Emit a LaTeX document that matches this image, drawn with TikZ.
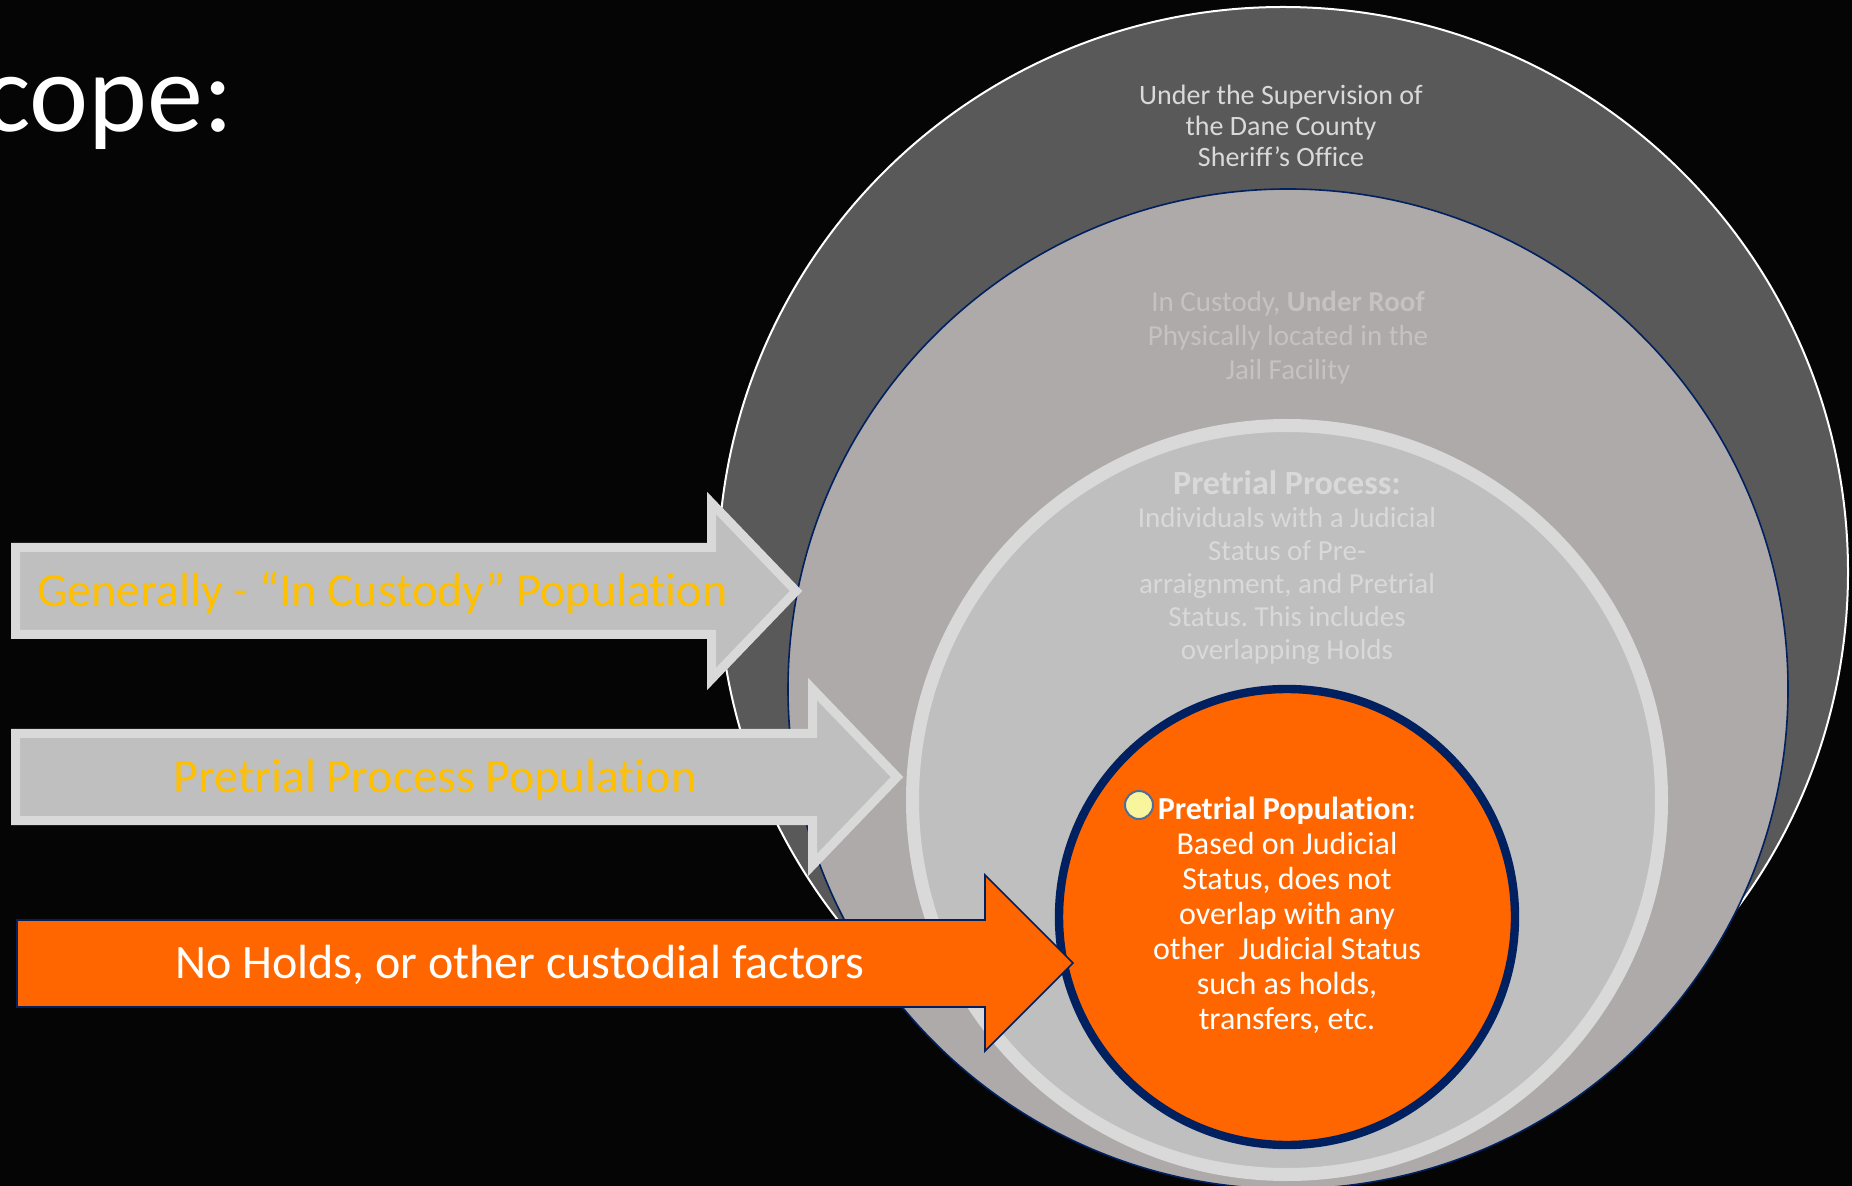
\documentclass[tikz,border=0pt]{standalone}
\usepackage{fontspec}
\setmainfont{Carlito}[Ligatures=NoCommon]
\usepackage{xcolor}
\usepackage{tikz}
\usetikzlibrary{positioning}
\definecolor{dkgray}{HTML}{595959}
\definecolor{midgray}{HTML}{AEAAAA}
\definecolor{ltgray}{HTML}{BFBFBF}
\definecolor{rimgray}{HTML}{D9D9D9}
\definecolor{roofgray}{HTML}{C4C2C2}
\definecolor{navy}{HTML}{002060}
\definecolor{orng}{HTML}{FF6600}
\definecolor{gold}{HTML}{FFC000}
\definecolor{dotyellow}{HTML}{F8F59C}
\definecolor{dotrim}{HTML}{4F6E9C}
\frenchspacing

\begin{document}
\begin{tikzpicture}[x=0.5pt, y=-0.5pt,
	every node/.style={inner sep=0pt, outer sep=0pt},
	ringtext/.style={align=center, font=\fontsize{14.5}{17}\selectfont},
	greyarrow/.style={fill=ltgray, draw=rimgray, line width=4.5pt, miter limit=10},
	arrowtext/.style={font=\fontsize{24}{28}\selectfont}]
			\useasboundingbox (0,0) rectangle (1852,1186);
			\clip (0,0) rectangle (1852,1186);
			\fill [black!98] (0,0) rectangle (1852,1186);
			
			% title, cut at the left edge
			\node (scope) [anchor=base west, text=white, font=\fontsize{56}{60}\selectfont] at (-17,132) {cope:};
			
			% nested rings
			\draw [fill=dkgray, draw=white, line width=1pt] (1283,572) circle (565);
			\draw [fill=midgray, draw=navy, line width=0.8pt] (1288,689) circle (500);
			\draw [fill=ltgray, draw=rimgray, line width=6.5pt] (1287,800) circle (374.5);
			\draw [fill=orng, draw=navy, line width=4.2pt] (1287,917) circle (228);
			
			\node (sheriff) [ringtext, text=rimgray, font=\fontsize{14}{15.5}\selectfont] at (1281,126) {Under the Supervision of\\the Dane County\\Sheriff’s Office};
			\node (roof) [ringtext, text=roofgray] at (1288,338) {In Custody,\ \textbf{Under Roof}\\Physically located in the\\Jail Facility};
			\node (process) [ringtext, text=rimgray, font=\fontsize{14.5}{16.5}\selectfont] at (1287,568) {{\fontsize{17}{17}\selectfont\textbf{Pretrial Process:}}\\Individuals with a Judicial\\Status of Pre-\\arraignment, and Pretrial\\Status. This includes\\overlapping Holds};
			\node (population) [ringtext, text=white, font=\fontsize{16}{17.5}\selectfont] at (1287,915) {\textbf{Pretrial Population}:\\Based on Judicial\\Status, does not\\overlap with any\\other\ \ Judicial Status\\such as holds,\\transfers, etc.};
			\node (dot) [circle, minimum size=14pt, fill=dotyellow, draw=dotrim, line width=1pt] at (1139,805) {};
			
			% block arrows
			\draw [greyarrow] (15.5,547.5) -- (711.5,547.5) -- (711.5,503) -- (796,591) -- (711.5,679) -- (711.5,634.5) -- (15.5,634.5) -- cycle;
			\node (custody) [arrowtext, anchor=base west, text=gold] at (37,607) {Generally - “In Custody” Population};
			
			\draw [greyarrow] (15.5,733.5) -- (812.5,733.5) -- (812.5,689) -- (897,777) -- (812.5,865) -- (812.5,820.5) -- (15.5,820.5) -- cycle;
			\node (pretrial) [arrowtext, anchor=base, text=gold] at (435,792) {Pretrial Process Population};
			
			\draw [fill=orng, draw=navy, line width=0.8pt] (17,920) -- (985,920) -- (985,875) -- (1073,963) -- (985,1051) -- (985,1007) -- (17,1007) -- cycle;
			\node (noholds) [arrowtext, anchor=base, text=white] at (520,978) {No Holds, or other custodial factors};
\end{tikzpicture}
\end{document}
